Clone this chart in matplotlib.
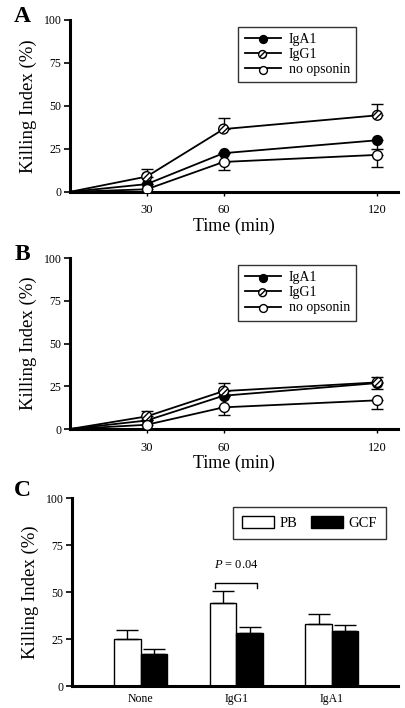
import numpy as np
import matplotlib
matplotlib.use("Agg")
import matplotlib.pyplot as plt
from matplotlib.legend_handler import HandlerTuple
from matplotlib.patches import Patch

plt.rcParams["font.family"] = ["Liberation Serif", "DejaVu Serif"]
plt.rcParams["hatch.linewidth"] = 1.0
plt.rcParams["mathtext.fontset"] = "custom"
plt.rcParams["mathtext.it"] = "Liberation Serif:italic"
plt.rcParams["mathtext.rm"] = "Liberation Serif"

# ---- data ----
times = [0, 30, 60, 120]
series = ["IgA1", "IgG1", "no opsonin"]

# panel A
a_iga1 = [0, 4.5, 22.5, 30.0]
a_igg1 = [0, 8.9, 36.5, 44.5]
a_none = [0, 1.5, 17.4, 21.5]
a_err_lo = {"IgA1": [0, 0, 0, 5.2], "IgG1": [0, 0, 0, 0], "no opsonin": [0, 1.5, 4.6, 6.8]}
a_err_hi = {"IgA1": [0, 0, 0, 0], "IgG1": [0, 4.5, 6.4, 6.6], "no opsonin": [0, 0, 0, 0]}

# panel B
b_iga1 = [0, 5.0, 19.5, 26.9]
b_igg1 = [0, 7.4, 22.2, 27.3]
b_none = [0, 2.5, 12.7, 16.8]
b_err_lo = {"IgA1": [0, 0, 0, 3.3], "IgG1": [0, 0, 0, 0], "no opsonin": [0, 2.5, 4.3, 4.9]}
b_err_hi = {"IgA1": [0, 0, 0, 0], "IgG1": [0, 3.0, 4.8, 3.2], "no opsonin": [0, 0, 0, 0]}

# panel C
groups = ["None", "IgG1", "IgA1"]
pb_mean = [25.2, 44.2, 33.0]
pb_err = [4.5, 6.5, 5.3]
gcf_mean = [16.8, 28.3, 29.3]
gcf_err = [3.0, 3.2, 3.0]
p_text = "P = 0.04"

styles = {
    "IgA1": dict(fc="black", hatch=None),
    "IgG1": dict(fc="white", hatch="//////"),
    "no opsonin": dict(fc="white", hatch=None),
}


def style_axes(ax):
    for s in ("top", "right"):
        ax.spines[s].set_visible(False)
    ax.spines["left"].set_linewidth(2.2)
    ax.spines["bottom"].set_linewidth(2.2)
    ax.set_ylim(0, 100)
    ax.set_yticks([0, 25, 50, 75, 100])
    ax.tick_params(axis="y", length=4, width=1.2, labelsize=8.5, pad=2)
    ax.set_ylabel("Killing Index (%)", fontsize=13.5, labelpad=5)


def time_panel(fig, rect, letter, data, err_lo, err_hi):
    ax = fig.add_axes(rect)
    style_axes(ax)
    handles = []
    for name in series:
        y = data[name]
        st = styles[name]
        ax.errorbar(times[1:], y[1:], yerr=[err_lo[name][1:], err_hi[name][1:]],
                    fmt="none", ecolor="black", elinewidth=1.0, capsize=4, capthick=1.0, zorder=2)
        ln, = ax.plot(times, y, color="black", lw=1.3, zorder=3)
        sc = ax.scatter(times[1:], y[1:], s=50, facecolor=st["fc"], edgecolor="black",
                        linewidths=1.0, hatch=st["hatch"], zorder=4)
        handles.append((ln, sc))
    ax.set_xlim(0, 128)
    ax.set_xticks([30, 60, 120])
    ax.tick_params(axis="x", length=3, width=1.0, labelsize=9, pad=6)
    ax.set_xlabel("Time (min)", fontsize=13, labelpad=1)
    leg = ax.legend(handles, series, handler_map={tuple: HandlerTuple(ndivide=1, pad=0)},
                    loc="upper right", bbox_to_anchor=(0.895, 1.0), fontsize=10, frameon=True,
                    fancybox=False, edgecolor="black", scatterpoints=1, markerscale=0.8,
                    handlelength=2.6, borderpad=0.45, labelspacing=0.15, handletextpad=0.6)
    leg.get_frame().set_linewidth(1.0)
    fig.text(0.035, rect[1] + rect[3] + 0.005, letter, fontsize=17, fontweight="bold",
             ha="left", va="center")
    return ax


fig = plt.figure(figsize=(4.06, 7.08), dpi=100)

time_panel(fig, [0.172, 0.729, 0.808, 0.243], "A",
           {"IgA1": a_iga1, "IgG1": a_igg1, "no opsonin": a_none}, a_err_lo, a_err_hi)
time_panel(fig, [0.172, 0.394, 0.808, 0.2415], "B",
           {"IgA1": b_iga1, "IgG1": b_igg1, "no opsonin": b_none}, b_err_lo, b_err_hi)

# ---- panel C ----
rect_c = [0.177, 0.031, 0.803, 0.2655]
axc = fig.add_axes(rect_c)
style_axes(axc)
x = np.arange(len(groups))
w = 0.277
axc.bar(x - w / 2, pb_mean, w, color="white", edgecolor="black", linewidth=1.0,
        yerr=[np.zeros(len(groups)), pb_err], capsize=8,
        error_kw=dict(elinewidth=1.0, capthick=1.0), label="PB")
axc.bar(x + w / 2, gcf_mean, w, color="black", edgecolor="black", linewidth=1.0,
        yerr=[np.zeros(len(groups)), gcf_err], capsize=8,
        error_kw=dict(elinewidth=1.0, capthick=1.0), label="GCF")
axc.set_xlim(-0.72, 2.69)
axc.set_xticks(x)
axc.set_xticklabels(groups)
axc.tick_params(axis="x", length=0, labelsize=8.5, pad=5)

# significance bracket
bx0, bx1 = x[1] - 0.22, x[1] + 0.22
axc.plot([bx0, bx0, bx1, bx1], [52, 55, 55, 52], color="black", lw=1.0)
axc.text(x[1], 61, r"$P$" + p_text[1:], ha="center", va="bottom", fontsize=9)

leg = axc.legend(handles=[Patch(facecolor="white", edgecolor="black", label="PB"),
                          Patch(facecolor="black", edgecolor="black", label="GCF")],
                 ncol=2, loc="upper right", bbox_to_anchor=(0.985, 0.99), fontsize=10.5,
                 frameon=True, fancybox=False, edgecolor="black", handlelength=2.2,
                 handleheight=0.9, columnspacing=0.9, handletextpad=0.4, borderpad=0.6)
leg.get_frame().set_linewidth(1.0)
fig.text(0.035, rect_c[1] + rect_c[3] + 0.01, "C", fontsize=17, fontweight="bold",
         ha="left", va="center")

fig.savefig("out.png", dpi=100)
